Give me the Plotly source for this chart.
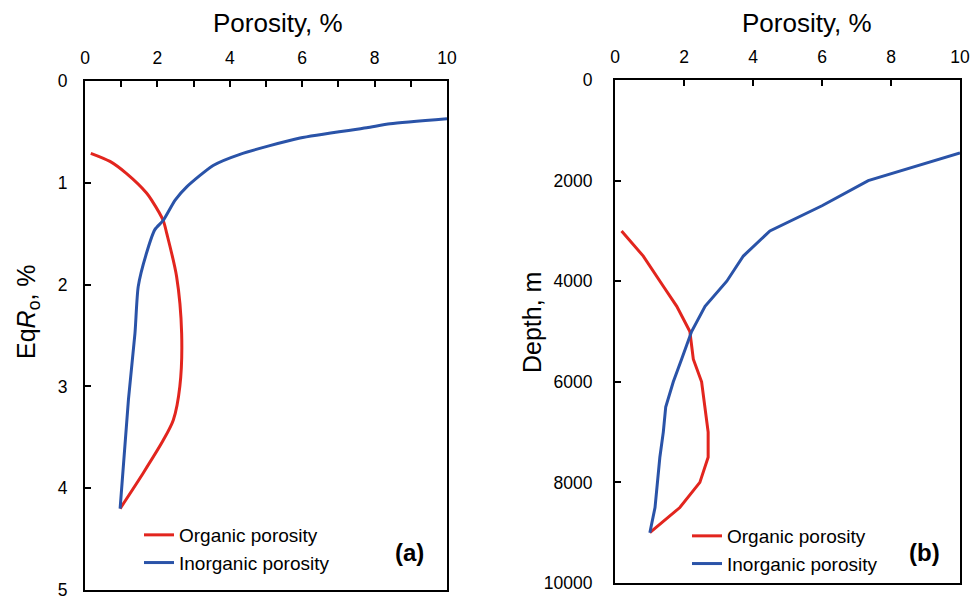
import plotly.graph_objects as go

# ---- Panel (a): porosity vs EqRo ----
a_org_x = [0.16, 0.69, 1.15, 1.70, 1.84, 2.16, 2.26, 2.53, 2.67, 2.62, 2.44, 2.16, 1.61, 0.97]
a_org_y = [0.71, 0.79, 0.91, 1.10, 1.17, 1.37, 1.50, 1.92, 2.48, 3.00, 3.33, 3.53, 3.85, 4.20]
a_inorg_x = [10.0, 8.43, 7.78, 5.94, 4.28, 3.54, 2.81, 2.49, 2.16, 1.93, 1.70, 1.47, 1.38, 1.20, 0.97]
a_inorg_y = [0.37, 0.42, 0.46, 0.56, 0.72, 0.83, 1.04, 1.17, 1.37, 1.46, 1.69, 2.02, 2.48, 3.13, 4.20]

# ---- Panel (b): porosity vs depth ----
b_org_x = [0.19, 0.82, 1.40, 1.79, 2.17, 2.27, 2.51, 2.60, 2.70, 2.70, 2.46, 1.88, 1.01]
b_org_y = [3000, 3500, 4100, 4500, 5000, 5550, 6000, 6500, 7000, 7500, 8000, 8500, 9000]
b_inorg_x = [10.0, 7.34, 6.00, 4.49, 3.72, 3.24, 2.61, 2.22, 1.93, 1.69, 1.47, 1.40, 1.30, 1.16, 1.01]
b_inorg_y = [1450, 2000, 2500, 3000, 3500, 4000, 4500, 5000, 5550, 6000, 6500, 7000, 7500, 8500, 9000]

x_ticks = [0, 2, 4, 6, 8, 10]
a_y_ticks = [0, 1, 2, 3, 4, 5]
b_y_ticks = [0, 2000, 4000, 6000, 8000, 10000]
b_y_labels = ["0", "2000", "4000", "6000", "8000", "10000"]

RED = "#E2251E"
BLUE = "#2A53A8"
FONT = "Liberation Sans, Arial, sans-serif"
W, H = 973, 596

fig = go.Figure()
fig.add_trace(go.Scatter(x=a_org_x, y=a_org_y, mode="lines", name="Organic porosity",
                         line=dict(color=RED, width=3, shape="spline", smoothing=0.8),
                         xaxis="x", yaxis="y", legend="legend"))
fig.add_trace(go.Scatter(x=a_inorg_x, y=a_inorg_y, mode="lines", name="Inorganic porosity",
                         line=dict(color=BLUE, width=3, shape="spline", smoothing=0.6),
                         xaxis="x", yaxis="y", legend="legend"))
fig.add_trace(go.Scatter(x=b_org_x, y=b_org_y, mode="lines", name="Organic porosity",
                         line=dict(color=RED, width=3),
                         xaxis="x2", yaxis="y2", legend="legend2"))
fig.add_trace(go.Scatter(x=b_inorg_x, y=b_inorg_y, mode="lines", name="Inorganic porosity",
                         line=dict(color=BLUE, width=3),
                         xaxis="x2", yaxis="y2", legend="legend2"))

def px_x(p):
    return p / W

def px_y(p):
    return 1 - p / H

axis_common = dict(showline=True, linecolor="black", linewidth=2, mirror=True,
                   ticks="inside", ticklen=6, tickwidth=1.5, tickcolor="black",
                   showgrid=False, zeroline=False, automargin=False,
                   ticklabeloverflow="allow",
                   tickfont=dict(family=FONT, size=17.5, color="black"))

fig.update_layout(
    template="none",
    width=W, height=H,
    margin=dict(l=0, r=0, t=0, b=0, pad=0, autoexpand=False),
    paper_bgcolor="white", plot_bgcolor="white",
    font=dict(family=FONT, color="black"),
    xaxis=dict(domain=[px_x(85), px_x(447)], range=[0, 10], side="top", anchor="y",
               tickvals=x_ticks, ticklabelstandoff=8,
               minor=dict(dtick=1, ticks="inside", ticklen=6, tickwidth=1.5, tickcolor="black"),
               **axis_common),
    yaxis=dict(domain=[px_y(590), px_y(81)], range=[5, 0], anchor="x",
               tickvals=a_y_ticks, ticklabelstandoff=12, **axis_common),
    xaxis2=dict(domain=[px_x(615), px_x(960)], range=[0, 10], side="top", anchor="y2",
                tickvals=x_ticks, ticklabelstandoff=8, **axis_common),
    yaxis2=dict(domain=[px_y(583), px_y(80)], range=[10000, 0], anchor="x2",
                tickvals=b_y_ticks, ticktext=b_y_labels, ticklabelstandoff=17, **axis_common),
    legend=dict(x=px_x(139), y=px_y(516), xanchor="left", yanchor="top",
                bgcolor="rgba(0,0,0,0)", font=dict(family=FONT, size=19),
                itemwidth=30),
    legend2=dict(x=px_x(687), y=px_y(517), xanchor="left", yanchor="top",
                 bgcolor="rgba(0,0,0,0)", font=dict(family=FONT, size=19),
                 itemwidth=30, tracegroupgap=0),
)

def note(text, x, y, size, angle=0):
    return dict(text=text, x=px_x(x), y=px_y(y), xref="paper", yref="paper",
                xanchor="center", yanchor="middle", showarrow=False, textangle=angle,
                font=dict(family=FONT, size=size, color="black"))

ann = [
    note("Porosity, %", 278, 23, 26),
    note("Porosity, %", 807, 23, 26),
    note("Eq<i>R</i><sub>o</sub>, %", 28, 312, 25, -90),
    note("Depth, m", 532, 323, 25, -90),
    note("<b>(a)</b>", 409, 552, 24),
    note("<b>(b)</b>", 924, 552, 24),
]
fig.update_layout(annotations=ann)

fig.write_html("out.html")
